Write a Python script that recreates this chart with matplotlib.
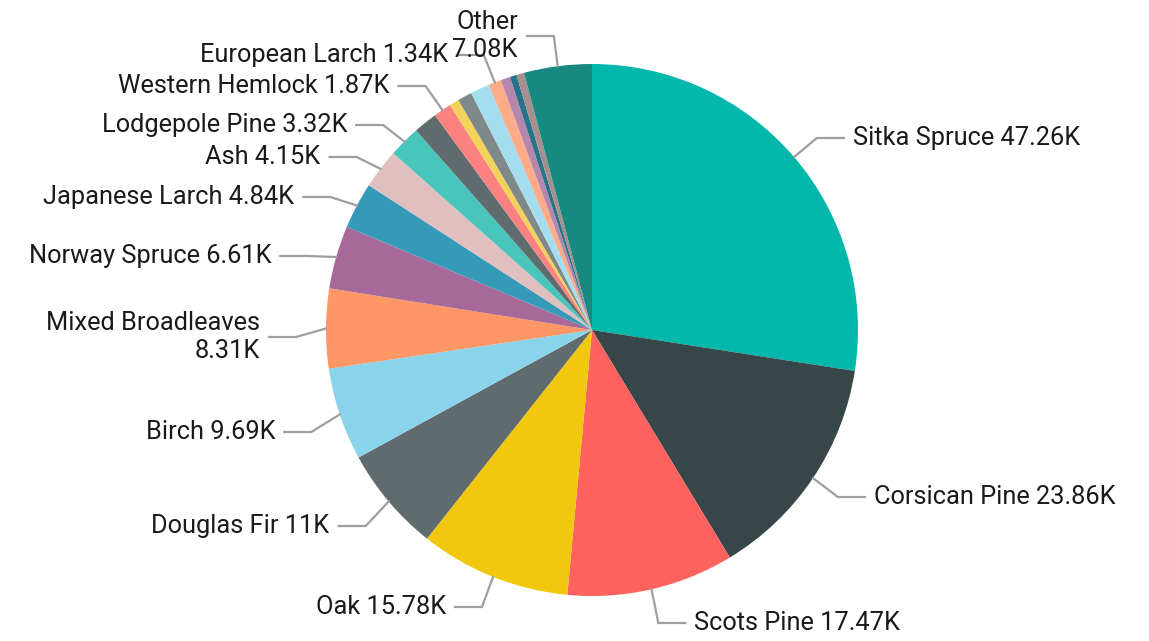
import numpy as np
import matplotlib
matplotlib.use("Agg")
from matplotlib import pyplot as plt

# species area (thousand ha), clockwise from 12 o'clock
species = ["Sitka Spruce", "Corsican Pine", "Scots Pine", "Oak", "Douglas Fir",
           "Birch", "Mixed Broadleaves", "Norway Spruce", "Japanese Larch", "Ash",
           "Lodgepole Pine", "Sycamore", "Western Hemlock", "Beech", "Hybrid Larch",
           "Grand Fir", "European Larch", "Alder", "Noble Fir", "Lawson Cypress",
           "Other"]
area = [47.26, 23.86, 17.47, 15.78, 11.0,
        9.69, 8.31, 6.61, 4.84, 4.15,
        3.32, 2.5, 1.87, 1.0, 1.5,
        2.0, 1.34, 1.0, 0.7, 0.8,
        7.08]
shown = [True] * 11 + [False, True, False, False, False, True, False, False, False, True]
two_line = ["Mixed Broadleaves", "Other"]

colors = ["#01B8AA", "#374649", "#FD625E", "#F2C80F", "#5F6B6D", "#8AD4EB", "#FE9666",
          "#A66999", "#3599B8", "#DFBFBF", "#4AC5BB", "#5F6B6D", "#FB8281", "#F4D25A",
          "#7F898A", "#A4DDEE", "#FDAB89", "#B687AC", "#28738A", "#A78F8F", "#168980"]

# label heights in pixels from the top edge
label_top = {"Sitka Spruce": 138, "Corsican Pine": 497, "Scots Pine": 623, "Oak": 607,
             "Douglas Fir": 526, "Birch": 432, "Mixed Broadleaves": 337,
             "Norway Spruce": 256, "Japanese Larch": 197, "Ash": 157,
             "Lodgepole Pine": 125, "Western Hemlock": 86, "European Larch": 55,
             "Other": 36}

W, H = 1149, 641
cx, cy, r = 592, H - 330, 266

plt.rcParams["font.family"] = ["Roboto", "DejaVu Sans"]
fig = plt.figure(figsize=(W / 100, H / 100), dpi=100)
ax = fig.add_axes([0, 0, 1, 1])
wedges, _ = ax.pie(area, colors=colors, startangle=90, counterclock=False,
                   center=(cx, cy), radius=r, wedgeprops=dict(linewidth=0))
ax.set_xlim(0, W)
ax.set_ylim(0, H)
ax.axis("off")

def fmt(v):
    s = f"{v:.2f}".rstrip("0").rstrip(".")
    return s + "K"

for w, name, v, show in zip(wedges, species, area, shown):
    if not show:
        continue
    mid = np.deg2rad((w.theta1 + w.theta2) / 2)
    px, py = cx + r * np.cos(mid), cy + r * np.sin(mid)
    side = 1 if np.cos(mid) >= 0 else -1
    ly = H - label_top[name]
    # leader: short slanted piece out of the wedge, then a flat run to the text
    ex = px + 30 * np.cos(mid)
    hx = ex + side * 27
    ax.plot([px, ex, hx], [py, ly, ly], color="#9E9E9E", lw=1.6,
            solid_joinstyle="miter")
    sep = "\n" if name in two_line else " "
    ax.text(hx + side * 9, ly, f"{name}{sep}{fmt(v)}", ha="left" if side > 0 else "right",
            va="center", multialignment="right", fontsize=18.3, color="#1A1A1A",
            linespacing=1.2)

plt.savefig("out.png", dpi=100)
